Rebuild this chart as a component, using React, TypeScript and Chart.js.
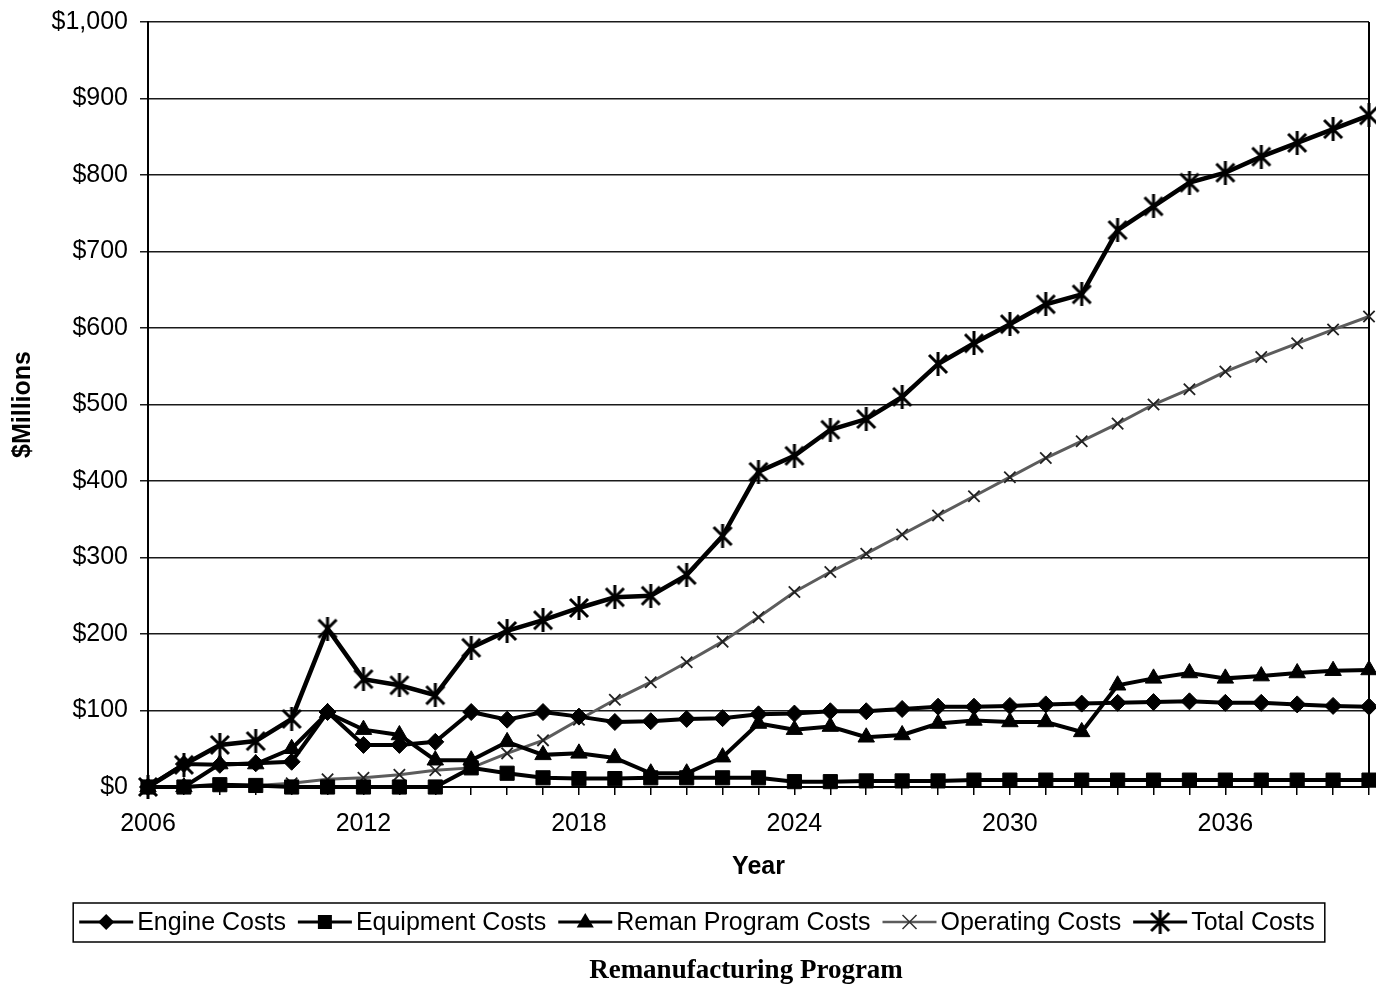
import { useEffect, useRef } from 'react';
import { Chart, registerables } from 'chart.js';

Chart.register(...registerables);

const years = [
  2006, 2007, 2008, 2009, 2010, 2011, 2012, 2013, 2014, 2015, 2016, 2017,
  2018, 2019, 2020, 2021, 2022, 2023, 2024, 2025, 2026, 2027, 2028, 2029,
  2030, 2031, 2032, 2033, 2034, 2035, 2036, 2037, 2038, 2039, 2040,
];
const xTickYears = [2006, 2012, 2018, 2024, 2030, 2036];

const engineCosts = [
  0, 30, 29, 31, 33, 98, 55, 55, 59, 98, 88, 98, 92, 85, 86, 89, 90, 95, 96,
  99, 99, 102, 105, 105, 106, 108, 109, 110, 111, 112, 110, 110, 108, 106, 105,
];
const equipmentCosts = [
  0, 0, 3, 2, 0, 0, 0, 0, 0, 25, 18, 12, 11, 11, 12, 12, 12, 12, 7, 7, 8, 8, 8,
  9, 9, 9, 9, 9, 9, 9, 9, 9, 9, 9, 9,
];
const remanCosts = [
  0, 0, 30, 30, 50, 97, 75, 68, 35, 35, 59, 42, 44, 38, 18, 18, 39, 83, 75, 79,
  65, 68, 83, 87, 85, 85, 72, 133, 142, 149, 142, 145, 149, 152, 153,
];
const operatingCosts = [
  0, 0, 2, 2, 5, 10, 12, 16, 22, 25, 44, 61, 88, 114, 137, 163, 190, 222, 255,
  281, 305, 330, 355, 380, 405, 430, 452, 475, 500, 520, 543, 562, 580, 598, 615,
];
const totalCosts = [
  0, 29, 55, 60, 89, 207, 141, 133, 120, 182, 204, 218, 234, 248, 250, 277, 328,
  412, 433, 467, 481, 510, 553, 580, 605, 631, 644, 728, 759, 790, 803, 824, 842,
  860, 878,
];

const seriesNames = [
  'Engine Costs',
  'Equipment Costs',
  'Reman Program Costs',
  'Operating Costs',
  'Total Costs',
];
const yAxisTitle = '$Millions';
const xAxisTitle = 'Year';
const chartTitle = 'Remanufacturing Program';

const SANS = '"Liberation Sans", Arial, Helvetica, sans-serif';
const SERIF = '"Liberation Serif", "Times New Roman", serif';

function makeStar(size: number, lw: number): HTMLCanvasElement {
  const c = document.createElement('canvas');
  c.width = size;
  c.height = size;
  const g = c.getContext('2d')!;
  g.strokeStyle = '#000';
  g.lineWidth = lw;
  const m = lw;
  g.beginPath();
  g.moveTo(m, m);
  g.lineTo(size - m, size - m);
  g.moveTo(size - m, m);
  g.lineTo(m, size - m);
  g.moveTo(size / 2, 0);
  g.lineTo(size / 2, size);
  g.stroke();
  return c;
}

type Kind = 'diamond' | 'square' | 'triangle' | 'cross' | 'star';
const kinds: Kind[] = ['diamond', 'square', 'triangle', 'cross', 'star'];

function drawMarker(ctx: CanvasRenderingContext2D, kind: Kind, x: number, y: number, star: HTMLCanvasElement) {
  ctx.save();
  ctx.fillStyle = '#000';
  ctx.strokeStyle = '#000';
  if (kind === 'diamond') {
    const r = 8;
    ctx.beginPath();
    ctx.moveTo(x, y - r);
    ctx.lineTo(x + r, y);
    ctx.lineTo(x, y + r);
    ctx.lineTo(x - r, y);
    ctx.closePath();
    ctx.fill();
  } else if (kind === 'square') {
    const s = 7;
    ctx.fillRect(x - s, y - s, 2 * s, 2 * s);
  } else if (kind === 'triangle') {
    const r = 9;
    ctx.beginPath();
    ctx.moveTo(x, y - r);
    ctx.lineTo(x + r * 0.95, y + r * 0.6);
    ctx.lineTo(x - r * 0.95, y + r * 0.6);
    ctx.closePath();
    ctx.fill();
  } else if (kind === 'cross') {
    const r = 7;
    ctx.strokeStyle = '#333';
    ctx.lineWidth = 1.5;
    ctx.beginPath();
    ctx.moveTo(x - r, y - r);
    ctx.lineTo(x + r, y + r);
    ctx.moveTo(x + r, y - r);
    ctx.lineTo(x - r, y + r);
    ctx.stroke();
  } else {
    ctx.drawImage(star, x - star.width / 2, y - star.height / 2);
  }
  ctx.restore();
}

export default function App() {
  const ref = useRef<HTMLCanvasElement | null>(null);

  useEffect(() => {
    const canvas = ref.current;
    if (!canvas) return;
    const star = makeStar(24, 3);

    const lineColors = ['#000', '#000', '#000', '#5c5c5c', '#000'];
    const lineWidths = [4, 4, 4, 3, 4.5];

    const legendPlugin = {
      id: 'customLegendTitle',
      afterDraw(chart: Chart) {
        const ctx = chart.ctx;
        ctx.save();
        ctx.font = `25px ${SANS}`;
        const symW = 54;
        const gapT = 4;
        const gapI = 12;
        const widths = seriesNames.map((n) => ctx.measureText(n).width);
        const total = widths.reduce((a, w) => a + symW + gapT + w, 0) + gapI * (seriesNames.length - 1);
        const cx = 697;
        let x = cx - total / 2;
        const yMid = 922;
        ctx.strokeStyle = '#000';
        ctx.lineWidth = 1.5;
        ctx.strokeRect(x - 6, 903, total + 16, 39);
        seriesNames.forEach((name, i) => {
          ctx.strokeStyle = lineColors[i];
          ctx.lineWidth = i === 3 ? 2.5 : 3;
          ctx.beginPath();
          ctx.moveTo(x, yMid);
          ctx.lineTo(x + symW, yMid);
          ctx.stroke();
          drawMarker(ctx, kinds[i], x + symW / 2, yMid, star);
          ctx.fillStyle = '#000';
          ctx.textAlign = 'left';
          ctx.textBaseline = 'middle';
          ctx.fillText(name, x + symW + gapT, yMid + 1);
          x += symW + gapT + widths[i] + gapI;
        });
        ctx.font = `bold 27px ${SERIF}`;
        ctx.textAlign = 'center';
        ctx.textBaseline = 'alphabetic';
        ctx.fillStyle = '#000';
        ctx.fillText(chartTitle, 746, 978);
        ctx.restore();
      },
    };

    const borderPlugin = {
      id: 'rightBorder',
      beforeDatasetsDraw(chart: Chart) {
        const { ctx, chartArea } = chart;
        ctx.save();
        ctx.strokeStyle = '#000';
        ctx.lineWidth = 2;
        ctx.beginPath();
        ctx.moveTo(chartArea.right, chartArea.top);
        ctx.lineTo(chartArea.right, chartArea.bottom);
        ctx.stroke();
        ctx.restore();
      },
    };

    const seriesValues = [engineCosts, equipmentCosts, remanCosts, operatingCosts, totalCosts];
    const pointStyles: any[] = ['rectRot', 'rect', 'triangle', 'crossRot', star];
    const pointRadii = [8.5, 10, 9.5, 8, 12];

    const chart = new Chart(canvas, {
      type: 'line',
      data: {
        labels: years.map(String),
        datasets: seriesNames.map((name, i) => ({
          label: name,
          data: seriesValues[i],
          borderColor: lineColors[i],
          borderWidth: lineWidths[i],
          backgroundColor: '#000',
          pointStyle: pointStyles[i],
          pointRadius: pointRadii[i],
          pointBackgroundColor: '#000',
          pointBorderColor: i === 3 ? '#222' : '#000',
          pointBorderWidth: i === 3 ? 1.8 : 1,
          tension: 0,
          fill: false,
          clip: false as any,
        })),
      },
      options: {
        animation: false,
        responsive: false,
        devicePixelRatio: 1,
        layout: { autoPadding: false, padding: { top: 22, right: 7, left: 0, bottom: 0 } },
        plugins: {
          legend: { display: false },
          title: { display: false },
          tooltip: { enabled: false },
        },
        scales: {
          x: {
            type: 'category',
            offset: false,
            grid: {
              display: true,
              drawOnChartArea: false,
              drawTicks: true,
              tickLength: 8,
              color: '#000',
              lineWidth: 1.5,
            },
            border: { display: true, color: '#000', width: 2 },
            ticks: {
              autoSkip: false,
              maxRotation: 0,
              minRotation: 0,
              padding: 14,
              color: '#000',
              font: { family: SANS, size: 25 },
              callback: (_v: any, idx: number) =>
                xTickYears.includes(years[idx]) ? String(years[idx]) : '',
            },
            title: {
              display: true,
              text: xAxisTitle,
              color: '#000',
              font: { family: SANS, size: 25, weight: 'bold' },
              padding: { top: 0, bottom: 102 },
            },
            afterFit: (s: any) => {
              s.height = 197;
              s.paddingLeft = 0;
              s.paddingRight = 0;
            },
          },
          y: {
            min: 0,
            max: 1000,
            grid: {
              color: '#1a1a1a',
              lineWidth: 1.5,
              drawTicks: true,
              tickLength: 8,
            },
            border: { display: true, color: '#000', width: 2 },
            ticks: {
              stepSize: 100,
              padding: 12,
              color: '#000',
              font: { family: SANS, size: 25 },
              callback: (v: any) => '$' + Number(v).toLocaleString('en-US'),
            },
            title: {
              display: true,
              text: yAxisTitle,
              color: '#000',
              font: { family: SANS, size: 25, weight: 'bold' },
              padding: { top: 8, bottom: 0 },
            },
            afterFit: (s: any) => {
              s.width = 148;
              s.paddingTop = 0;
              s.paddingBottom = 0;
            },
          },
        },
      },
      plugins: [borderPlugin, legendPlugin],
    });
    return () => chart.destroy();
  }, []);

  return (
    <div style={{ position: 'absolute', left: 0, top: 0, width: 1376, height: 984, background: '#fff' }}>
      <canvas ref={ref} width={1376} height={984} style={{ display: 'block' }} />
    </div>
  );
}
